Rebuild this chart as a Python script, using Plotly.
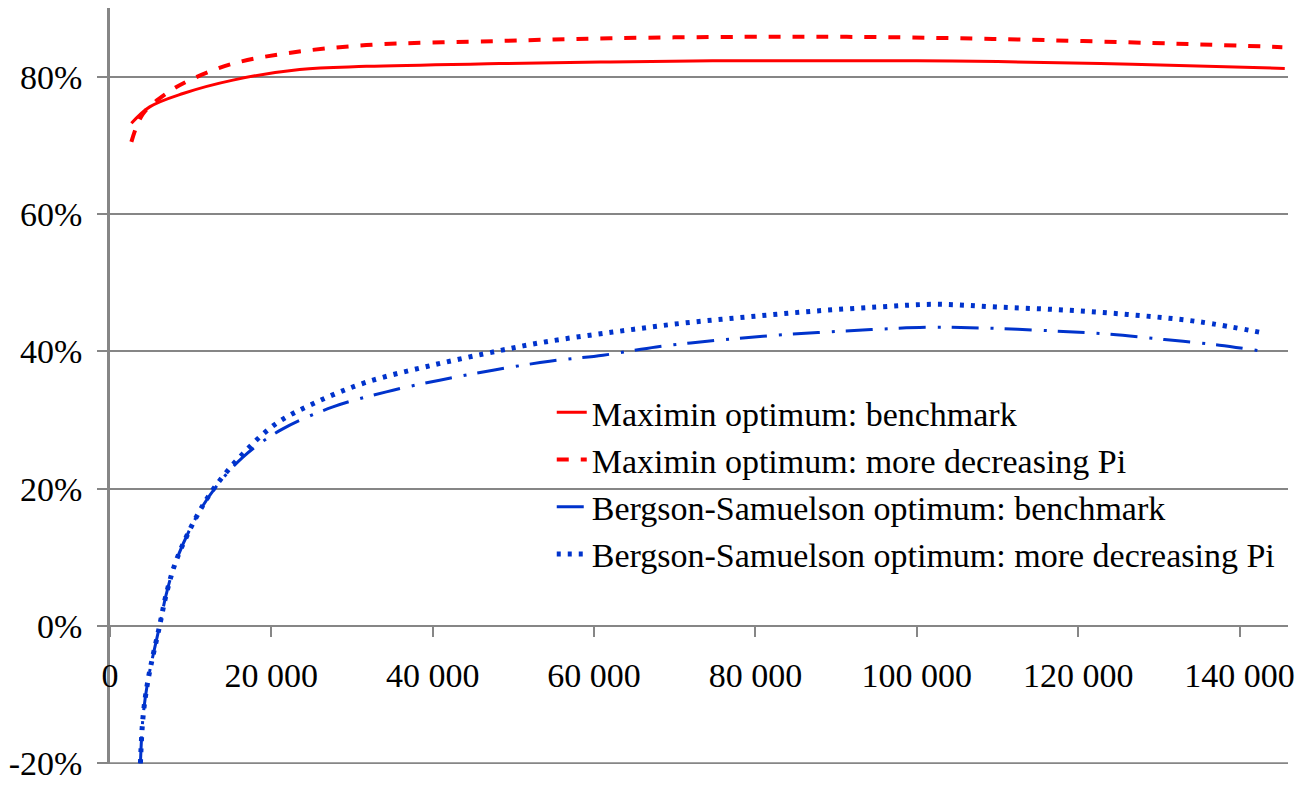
import plotly.graph_objects as go

# Maximin optimum: benchmark
mm_bench_x = [2650, 4920, 9050, 15240, 23510, 31770, 48290, 62000, 74680, 87070, 100000, 110000, 126700, 145600]
mm_bench_y = [73.2, 75.6, 77.55, 79.5, 81.05, 81.5, 81.9, 82.15, 82.3, 82.3, 82.3, 82.2, 81.8, 81.2]

# Maximin optimum: more decreasing Pi
mm_more_x = [2650, 4090, 6990, 9880, 15240, 21860, 31770, 48290, 62000, 78900, 91300, 109400, 135000, 145300]
mm_more_y = [70.5, 74.6, 77.55, 79.5, 81.9, 83.4, 84.6, 85.2, 85.6, 85.8, 85.8, 85.5, 84.7, 84.3]

# Bergson-Samuelson optimum: benchmark
bs_bench_x = [3770, 4090, 4710, 6160, 6990, 8230, 10710, 12970, 16480, 21240, 27630, 34250, 40860,
              47470, 54490, 61100, 67710, 74310, 80920, 87740, 94350, 101200, 107800, 116900,
              123900, 130700, 137500, 143500]
bs_bench_y = [-20.0, -13.3, -7.9, 0.1, 4.7, 9.6, 15.9, 20.0, 24.6, 28.6, 31.9, 34.1, 35.8,
              37.25, 38.56, 39.43, 40.64, 41.5, 42.2, 42.74, 43.17, 43.5, 43.41, 42.97,
              42.49, 41.72, 40.9, 39.9]

# Bergson-Samuelson optimum: more decreasing Pi
bs_more_x = [3770, 4090, 4710, 6160, 6990, 8230, 10710, 12970, 16480, 20620, 25580, 31770, 40030,
             48290, 54080, 62330, 70600, 78860, 87120, 95380, 102400, 110000, 118500, 126800,
             135000, 143300]
bs_more_y = [-20.0, -13.3, -7.9, 0.1, 4.7, 9.6, 15.9, 20.2, 25.1, 29.5, 32.6, 35.5, 38.0,
             40.1, 41.4, 42.8, 44.05, 45.0, 45.84, 46.47, 46.85, 46.45, 46.0, 45.3,
             44.3, 42.6]

x_ticks = [0, 20000, 40000, 60000, 80000, 100000, 120000, 140000]
y_ticks = [-20, 0, 20, 40, 60, 80]
y_tick_labels = ["-20%", "0%", "20%", "40%", "60%", "80%"]

RED = "#FF0000"
BLUE = "#0033CC"
GRID = "#868686"
FONT = "Liberation Serif, Times New Roman, serif"

fig = go.Figure()
fig.add_trace(go.Scatter(x=mm_bench_x, y=mm_bench_y, mode="lines", line_shape="spline",
                         name="Maximin optimum: benchmark", legendgroup="a",
                         line=dict(color=RED, width=3)))
fig.add_trace(go.Scatter(x=mm_more_x, y=mm_more_y, mode="lines", line_shape="spline",
                         name="Maximin optimum: more decreasing Pi", legendgroup="b",
                         line=dict(color=RED, width=4, dash="12px,12px")))
fig.add_trace(go.Scatter(x=bs_bench_x, y=bs_bench_y, mode="lines", line_shape="spline",
                         name="Bergson-Samuelson optimum: benchmark", legendgroup="c",
                         line=dict(color=BLUE, width=3, dash="27px,12px,3px,11px")))
fig.add_trace(go.Scatter(x=bs_more_x, y=bs_more_y, mode="lines", line_shape="spline",
                         name="Bergson-Samuelson optimum: more decreasing Pi", legendgroup="d",
                         line=dict(color=BLUE, width=5, dash="4px,7px")))

y_lo, y_hi = -20.1, 90

# bottom gridline (plotly drops the one sitting on the plot edge)
fig.add_hline(y=y_ticks[0], line=dict(color=GRID, width=2), layer="below")

fig.update_xaxes(range=[0, 146000], tickvals=x_ticks, tickformat=",d", automargin=False,
                 showgrid=False, zeroline=False, showline=True, linecolor=GRID, linewidth=2,
                 ticks="outside", ticklen=10, tickwidth=2, tickcolor=GRID,
                 anchor="free", position=(0 - y_lo) / (y_hi - y_lo), ticklabelstandoff=9,
                 tickfont=dict(family=FONT, size=34, color="black"))
fig.update_yaxes(range=[y_lo, y_hi], tickvals=y_ticks, ticktext=y_tick_labels, automargin=False,
                 showgrid=True, gridcolor=GRID, gridwidth=2, zeroline=False,
                 showline=True, linecolor=GRID, linewidth=2.5,
                 ticks="outside", ticklen=10, tickwidth=2, tickcolor=GRID,
                 ticklabelstandoff=8,
                 tickfont=dict(family=FONT, size=34, color="black"))

# page body has an 8px margin, so the figure is sized/offset to fit the window
fig.update_layout(
    width=1304, height=777,
    margin=dict(l=102, r=24, t=0, b=21),
    paper_bgcolor="white", plot_bgcolor="white",
    separators=". ",
    font=dict(family=FONT, size=34, color="black"),
    legend=dict(x=0.375, y=0.503, xanchor="left", yanchor="top",
                bgcolor="rgba(0,0,0,0)", traceorder="grouped", tracegroupgap=0,
                font=dict(family=FONT, size=34, color="black")),
)

fig.write_html("out.html")
